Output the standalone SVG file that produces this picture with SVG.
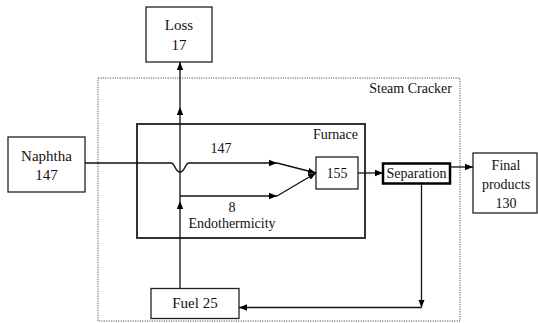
<svg xmlns="http://www.w3.org/2000/svg" width="538" height="323" viewBox="0 0 538 323">
<defs>
<marker id="ah" markerWidth="9" markerHeight="8" refX="8" refY="4" orient="auto" markerUnits="userSpaceOnUse">
<path d="M0,0.8 L8,4 L0,7.2 Z" fill="#000"/>
</marker>
</defs>
<style>
.box{fill:#fff;stroke:#222;stroke-width:1.3}
.t{font-family:"Liberation Serif","Times New Roman",serif;font-size:14px;fill:#111;text-anchor:middle}
.tl{font-size:15px}
.ln{fill:none;stroke:#111;stroke-width:1.3}
</style>
<rect width="538" height="323" fill="#fff"/>
<g id="steam-cracker">
<rect x="98" y="78" width="362" height="243" fill="none" stroke="#555" stroke-width="1" stroke-dasharray="1.2,1.2"/>
<text class="t" x="452" y="93" style="text-anchor:end">Steam Cracker</text>
</g>
<g id="furnace">
<rect x="137" y="124" width="228" height="114" fill="none" stroke="#333" stroke-width="2"/>
<text class="t" x="358" y="139" style="text-anchor:end">Furnace</text>
</g>
<g id="loss">
<rect class="box" x="146" y="7" width="66" height="55"/>
<text class="t tl" x="179" y="30">Loss</text>
<text class="t tl" x="179" y="50">17</text>
</g>
<g id="naphtha">
<rect class="box" x="8" y="137" width="77" height="55"/>
<text class="t tl" x="46.5" y="161">Naphtha</text>
<text class="t tl" x="46.5" y="180">147</text>
</g>
<g id="n155">
<rect class="box" x="316" y="157" width="42" height="32"/>
<text class="t" x="337" y="178">155</text>
</g>
<g id="separation">
<rect x="383" y="163.5" width="67" height="20" fill="#fff" stroke="#000" stroke-width="2.5"/>
<text class="t" x="416.5" y="178">Separation</text>
</g>
<g id="final-products">
<rect class="box" x="473" y="153" width="64" height="60"/>
<text class="t" x="506" y="170">Final</text>
<text class="t" x="506" y="189">products</text>
<text class="t" x="506" y="208">130</text>
</g>
<g id="fuel">
<rect class="box" x="151" y="288.5" width="88" height="30"/>
<text class="t tl" x="195" y="308">Fuel 25</text>
</g>
<g id="connectors">
<path class="ln" d="M180,288.5 V201" marker-end="url(#ah)"/>
<path class="ln" d="M180,201 V107" marker-end="url(#ah)"/>
<path class="ln" d="M180,107 V62" marker-end="url(#ah)"/>
<path class="ln" d="M85,163 H171 C175,163 175,172 180,172 C185,172 185,163 189,163 H277" marker-end="url(#ah)"/>
<path class="ln" d="M180,196 H277" marker-end="url(#ah)"/>
<path class="ln" d="M277,163 L316,173" marker-end="url(#ah)"/>
<path class="ln" d="M277,196 L316,173" marker-end="url(#ah)"/>
<path class="ln" d="M358,173 H383" marker-end="url(#ah)"/>
<path class="ln" d="M450,167 H473" marker-end="url(#ah)"/>
<path class="ln" d="M421.5,183.5 V307.5" marker-end="url(#ah)"/>
<path class="ln" d="M421.5,307.5 H239" marker-end="url(#ah)"/>
<text class="t" x="221" y="153">147</text>
<text class="t" x="232" y="212">8</text>
<text class="t" x="232" y="228">Endothermicity</text>
</g>
</svg>
